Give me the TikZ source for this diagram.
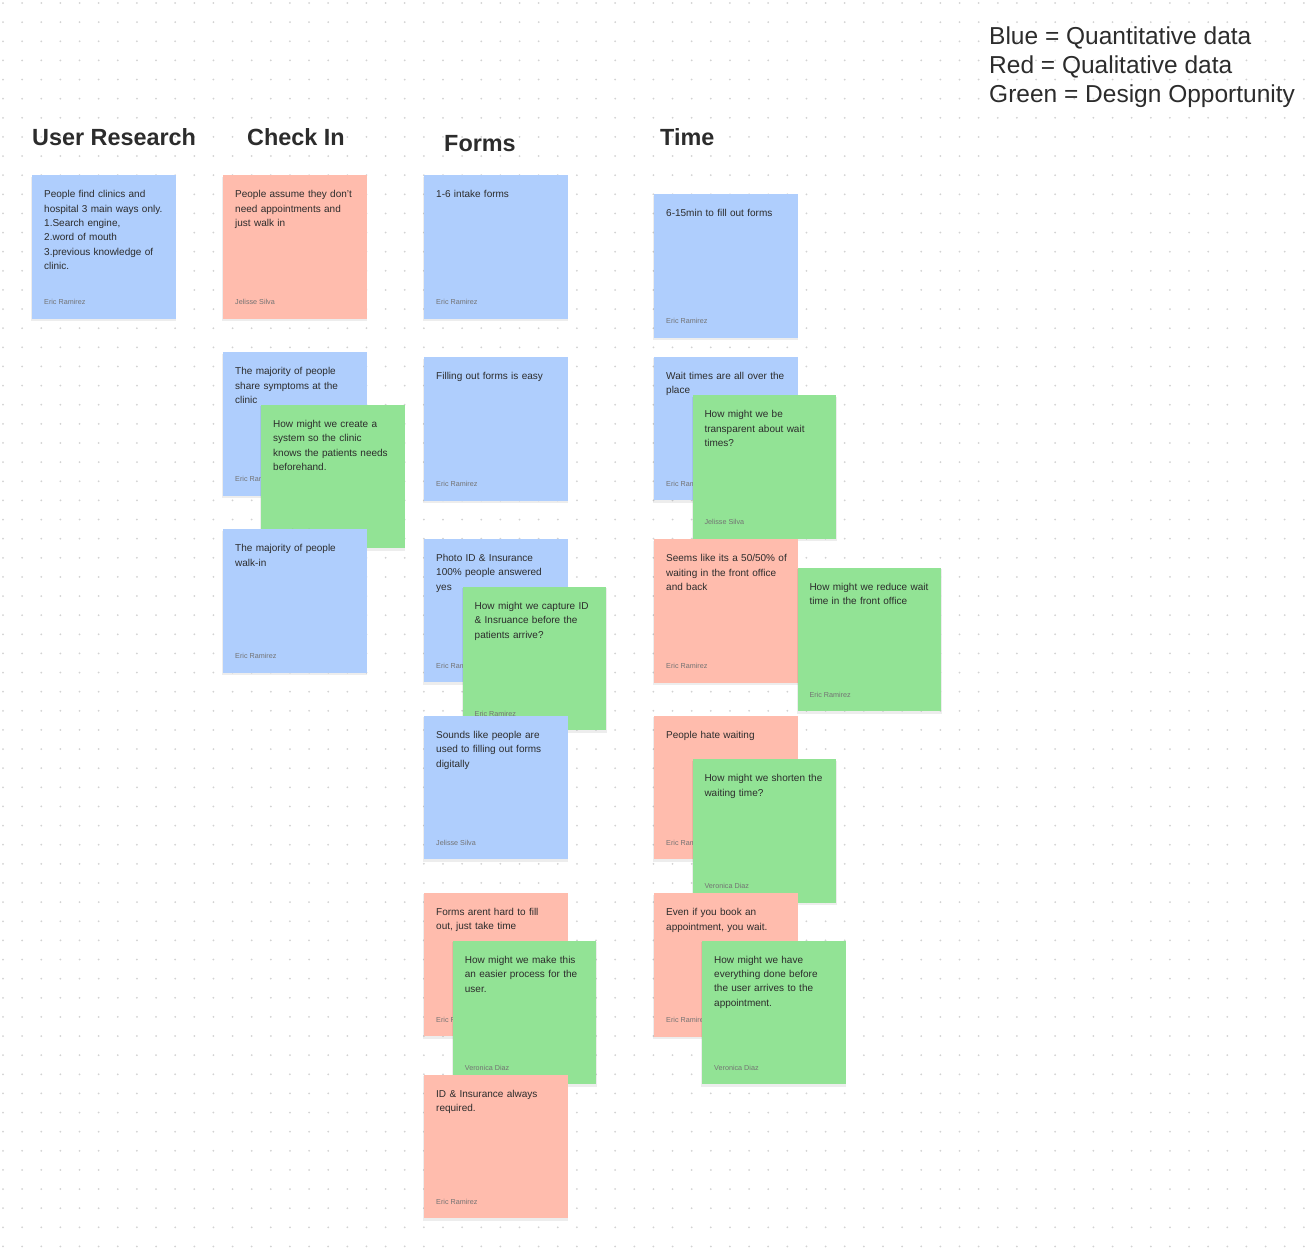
\documentclass[tikz,border=0pt]{standalone}
\usepackage{fontspec}
\setmainfont{Liberation Sans}
\usetikzlibrary{shadows}
\definecolor{nblue}{RGB}{175,206,253}
\definecolor{nred}{RGB}{255,188,173}
\definecolor{ngreen}{RGB}{146,227,149}
\definecolor{ink}{RGB}{44,44,44}
\definecolor{dotc}{RGB}{210,210,210}
\tikzset{
  card/.style={anchor=north west, minimum width=143.5pt, minimum height=143.5pt, inner sep=0pt, draw=none,
    drop shadow={shadow xshift=0pt, shadow yshift=-2pt, shadow scale=1.01, opacity=0.07, fill=black}},
  notetext/.style={anchor=base west, inner sep=0pt, text width=135pt, align=left, text=ink,
    font=\fontsize{10}{14.4}\selectfont},
  noteauthor/.style={anchor=base west, inner sep=0pt, text=black!55, font=\fontsize{7.2}{8}\selectfont},
  header/.style={anchor=base west, inner sep=0pt, text=ink, font=\fontsize{23.4}{28}\selectfont\bfseries},
  legend/.style={anchor=base west, inner sep=0pt, text=ink, font=\fontsize{24.5}{29}\selectfont}
}
\newcommand\stickynote[6]{%
  \node[card, fill=#4] (#1) at (#2,#3) {};
  \node[notetext] (#1-t) at ([xshift=12pt,yshift=-22.7pt]#1.north west) {#5};
  \node[noteauthor] (#1-a) at ([xshift=12pt,yshift=14pt]#1.south west) {#6};
}
\begin{document}
\begin{tikzpicture}[x=1pt,y=-1pt]
\useasboundingbox (0,0) rectangle (1310,1248);
\fill[white] (0,0) rectangle (1310,1248);
\foreach \i in {0,...,68} {
  \foreach \j in {0,...,65} {
    \fill[dotc] (3+19.13*\i, 3+19.13*\j) circle (1pt);
  }
}
% legend
\node[legend] (leg1) at (989,44.3) {Blue = Quantitative data};
\node[legend] (leg2) at (989,73.3) {Red = Qualitative data};
\node[legend] (leg3) at (989,102.3) {Green = Design Opportunity};
% headers
\node[header] (h1) at (32,145) {User Research};
\node[header] (h2) at (247,145) {Check In};
\node[header] (h3) at (444,151) {Forms};
\node[header] (h4) at (660,145) {Time};
% user research
\stickynote{ur1}{32}{175}{nblue}{People find clinics and\\hospital 3 main ways only.\\1.Search engine,\\2.word of mouth\\3.previous knowledge of\\clinic.}{Eric Ramirez}
% check in
\stickynote{ci1}{223}{175}{nred}{People assume they don’t\\need appointments and\\just walk in}{Jelisse Silva}
\stickynote{ci2}{223}{352}{nblue}{The majority of people\\share symptoms at the\\clinic}{Eric Ramirez}
\stickynote{ci3}{261}{404.5}{ngreen}{How might we create a\\system so the clinic\\knows the patients needs\\beforehand.}{Veronica Diaz}
\stickynote{ci4}{223}{529}{nblue}{The majority of people\\walk-in}{Eric Ramirez}
% forms
\stickynote{f1}{424}{175}{nblue}{1-6 intake forms}{Eric Ramirez}
\stickynote{f2}{424}{357}{nblue}{Filling out forms is easy}{Eric Ramirez}
\stickynote{f3}{424}{538.5}{nblue}{Photo ID \& Insurance\\100\% people answered\\yes}{Eric Ramirez}
\stickynote{f4}{462.5}{586.5}{ngreen}{How might we capture ID\\\& Insruance before the\\patients arrive?}{Eric Ramirez}
\stickynote{f5}{424}{715.7}{nblue}{Sounds like people are\\used to filling out forms\\digitally}{Jelisse Silva}
\stickynote{f6}{424}{892.7}{nred}{Forms arent hard to fill\\out, just take time}{Eric Ramirez}
\stickynote{f7}{452.7}{940.5}{ngreen}{How might we make this\\an easier process for the\\user.}{Veronica Diaz}
\stickynote{f8}{424}{1074.3}{nred}{ID \& Insurance always\\required.}{Eric Ramirez}
% time
\stickynote{t1}{654}{194}{nblue}{6-15min to fill out forms}{Eric Ramirez}
\stickynote{t2}{654}{356.7}{nblue}{Wait times are all over the\\place}{Eric Ramirez}
\stickynote{t3}{692.3}{395}{ngreen}{How might we be\\transparent about wait\\times?}{Jelisse Silva}
\stickynote{t4}{654}{539}{nred}{Seems like its a 50/50\% of\\waiting in the front office\\and back}{Eric Ramirez}
\stickynote{t5}{797.3}{567.3}{ngreen}{How might we reduce wait\\time in the front office}{Eric Ramirez}
\stickynote{t6}{654}{715.7}{nred}{People hate waiting}{Eric Ramirez}
\stickynote{t7}{692.3}{759}{ngreen}{How might we shorten the\\waiting time?}{Veronica Diaz}
\stickynote{t8}{654}{893}{nred}{Even if you book an\\appointment, you wait.}{Eric Ramirez}
\stickynote{t9}{702}{940.3}{ngreen}{How might we have\\everything done before\\the user arrives to the\\appointment.}{Veronica Diaz}
\end{tikzpicture}
\end{document}
